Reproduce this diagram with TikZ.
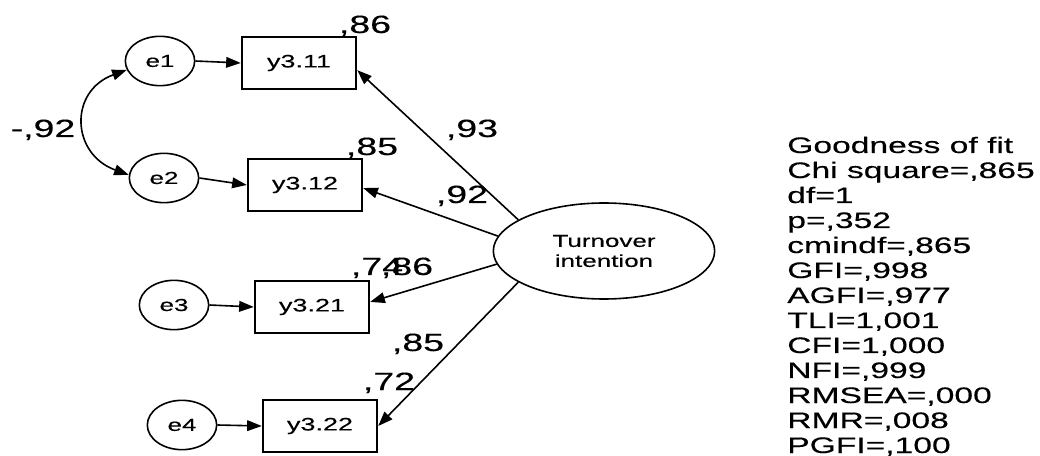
\documentclass[tikz,border=0pt]{standalone}
\usepackage{fontspec}
\setmainfont{Liberation Sans}[FakeStretch=1.5,FakeBold=0.3]
\usetikzlibrary{shapes.geometric,arrows.meta}
\begin{document}
\begin{tikzpicture}[x=0.75pt,y=-0.75pt,
  every node/.style={inner sep=0pt},
  err/.style={draw, ellipse, line width=1.2pt, minimum width=52pt, minimum height=37pt, font=\fontsize{13}{16}\selectfont},
  obs/.style={draw, rectangle, line width=1.3pt, minimum width=86pt, minimum height=38.5pt, font=\fontsize{13.5}{16}\selectfont},
  lat/.style={draw, ellipse, line width=1.2pt, minimum width=166pt, minimum height=72pt, align=center, font=\fontsize{13}{15}\selectfont},
  coef/.style={anchor=base, font=\fontsize{18.75}{20}\selectfont},
  gof/.style={anchor=base west, font=\fontsize{16.8}{18}\selectfont},
  arr/.style={line width=1.2pt, -{Triangle[length=11pt,width=8pt]}},
  dbl/.style={line width=1.2pt, {Triangle[length=11pt,width=8pt]}-{Triangle[length=11pt,width=8pt]}}
]
\fill[white] (0,0) rectangle (1040,456);
\useasboundingbox (0,0) rectangle (1040,456);

\node[err] (e1) at (160,61) {e1};
\node[obs] (y311) at (299,63) {y3.11};
\node[err] (e2) at (164,178) {e2};
\node[obs] (y312) at (305,185) {y3.12};
\node[err] (e3) at (174,305) {e3};
\node[obs] (y321) at (312,307) {y3.21};
\node[err] (e4) at (182,425) {e4};
\node[obs] (y322) at (320,426) {y3.22};
\node[lat] (T) at (604,251) {Turnover\\intention};

\draw[arr] (e1.east) -- (y311.west);
\draw[arr] (e2.east) -- (y312.west);
\draw[arr] (e3.east) -- (y321.west);
\draw[arr] (e4.east) -- (y322.west);

\draw[arr] (T.160) -- (y311.-7);
\draw[arr] (T.172) -- (y312.-3);
\draw[arr] (T.187) -- (y321.5);
\draw[arr] (T.200) -- (y322.east);

\draw[dbl] (e1.195) to[out=200,in=160,looseness=1.5] (e2.175);

\node[coef] (l1) at (365,33) {,86};
\node[coef] (l2) at (372,155) {,85};
\node[coef] (l3) at (43,137) {-,92};
\node[coef] (l4) at (472,137) {,93};
\node[coef] (l5) at (462,203) {,92};
\node[coef] (l6) at (377,275) {,74};
\node[coef] (l7) at (407,275) {,86};
\node[coef] (l8) at (418,351) {,85};
\node[coef] (l9) at (389,390) {,72};

\foreach \t [count=\i from 0] in {{Goodness of fit},{Chi square=,865},{df=1},{p=,352},{cmindf=,865},{GFI=,998},{AGFI=,977},{TLI=1,001},{CFI=1,000},{NFI=,999},{RMSEA=,000},{RMR=,008},{PGFI=,100}}
  \node[gof] (g\i) at (787,{153+25*\i}) {\t};
\end{tikzpicture}
\end{document}
